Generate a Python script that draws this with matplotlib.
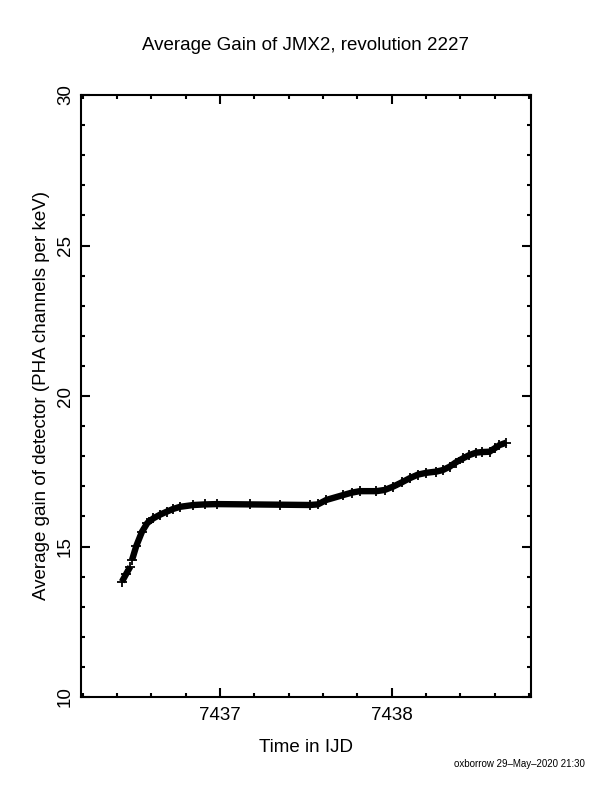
import numpy as np
import matplotlib
matplotlib.use("Agg")
import matplotlib.pyplot as plt
from matplotlib.ticker import MultipleLocator

plt.rcParams['font.family'] = ['Liberation Sans', 'DejaVu Sans']

# gain readings (time in IJD, average gain)
time_ijd = [7436.428, 7436.453, 7436.477,
            7436.487, 7436.512, 7436.545, 7436.576, 7436.612, 7436.651,
            7436.690, 7436.727, 7436.767, 7436.845, 7436.913, 7436.981,
            7437.174, 7437.349, 7437.523, 7437.570, 7437.620, 7437.717,
            7437.767, 7437.814, 7437.911, 7437.959, 7438.008, 7438.058,
            7438.105, 7438.153, 7438.202, 7438.260, 7438.297, 7438.337,
            7438.372, 7438.415, 7438.453, 7438.492, 7438.529, 7438.570,
            7438.599, 7438.628, 7438.667]
gain = [13.83, 14.09, 14.33,
        14.55, 15.02, 15.49, 15.78, 15.94, 16.06,
        16.16, 16.25, 16.32, 16.38, 16.40, 16.41,
        16.40, 16.39, 16.38, 16.40, 16.55, 16.71,
        16.79, 16.84, 16.84, 16.88, 16.99, 17.13,
        17.27, 17.39, 17.45, 17.49, 17.54, 17.65,
        17.79, 17.93, 18.04, 18.12, 18.14, 18.15,
        18.26, 18.37, 18.45]
gap_after = 3  # small break in the data after the first few points

fig = plt.figure(figsize=(6.12, 7.92), dpi=100)
ax = fig.add_axes([0.1324, 0.1199, 0.7348, 0.7601])

for seg in (slice(0, gap_after), slice(gap_after, None)):
    ax.plot(time_ijd[seg], gain[seg], color='black', lw=4.6,
            marker='+', ms=7.5, mew=1.3, solid_capstyle='butt')

ax.set_xlim(7436.19, 7438.81)
ax.set_ylim(10, 30)
ax.xaxis.set_major_locator(MultipleLocator(1))
ax.xaxis.set_minor_locator(MultipleLocator(0.2))
ax.yaxis.set_major_locator(MultipleLocator(5))
ax.yaxis.set_minor_locator(MultipleLocator(1))
ax.tick_params(which='both', direction='in', top=True, right=True,
               width=1.5, labelsize=13.5)
ax.tick_params(which='major', length=6.5, pad=7)
ax.tick_params(axis='y', which='major', pad=5)
ax.tick_params(which='minor', length=3.2)
ax.tick_params(axis='y', labelrotation=90)
for lab in ax.get_yticklabels():
    lab.set_va('center')
for sp in ax.spines.values():
    sp.set_linewidth(1.5)

fig.text(0.5, 0.942, "Average Gain of JMX2, revolution 2227",
         ha='center', va='center', fontsize=13.5)
fig.text(0.5, 0.0556, "Time in IJD", ha='center', va='center', fontsize=13.5)
fig.text(0.0686, 0.50, "Average gain of detector (PHA channels per keV)",
         ha='center', va='center', rotation=90, fontsize=13.5)
fig.text(0.956, 0.035, "oxborrow 29\u2013May\u20132020 21:30",
         ha='right', va='center', fontsize=7)

fig.savefig("out.png", dpi=100)
